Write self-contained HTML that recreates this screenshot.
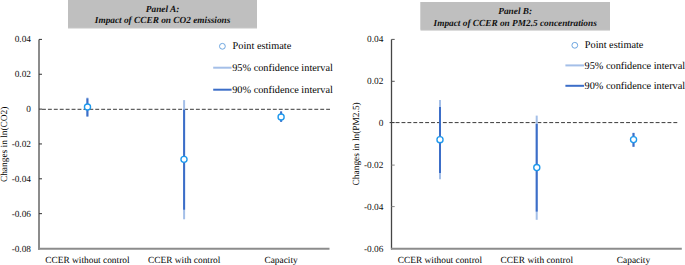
<!DOCTYPE html>
<html><head><meta charset="utf-8"><style>
html,body{margin:0;padding:0;background:#fff;width:685px;height:265px;overflow:hidden}
svg{display:block;text-rendering:geometricPrecision}
.t{font-family:"Liberation Serif",serif;font-weight:bold;font-style:italic;font-size:9.3px;fill:#111}
.tk{font-family:"Liberation Serif",serif;font-size:9.3px;fill:#111}
.xl{font-family:"Liberation Serif",serif;font-size:9.4px;fill:#000}
.lg{font-family:"Liberation Serif",serif;font-size:10.3px;fill:#000}
</style></head><body>
<svg width="685" height="265" viewBox="0 0 685 265">
<!-- ================= PANEL A ================= -->
<rect x="68" y="0" width="189" height="28.5" fill="#c6c6c6"/>
<rect x="68" y="0" width="189" height="27.5" fill="#bfbfbf"/>
<text class="t" x="162.6" y="11.8" text-anchor="middle">Panel A:</text>
<text class="t" x="162.6" y="23.4" text-anchor="middle">Impact of CCER on CO2 emissions</text>

<!-- zero line -->
<line x1="42" y1="109.3" x2="330" y2="109.3" stroke="#3a3a3a" stroke-width="1" stroke-dasharray="3.9 2.02"/>
<!-- axes -->
<line x1="39" y1="39.4" x2="39" y2="249.7" stroke="#8c8c8c" stroke-width="2"/>
<line x1="38" y1="248.7" x2="329.5" y2="248.7" stroke="#8c8c8c" stroke-width="2"/>
<g stroke="#333" stroke-width="1">
<line x1="39" y1="39.4" x2="42" y2="39.4"/>
<line x1="39" y1="74.25" x2="42" y2="74.25"/>
<line x1="39" y1="109.1" x2="42" y2="109.1"/>
<line x1="39" y1="143.95" x2="42" y2="143.95"/>
<line x1="39" y1="178.8" x2="42" y2="178.8"/>
<line x1="39" y1="213.65" x2="42" y2="213.65"/>
</g>
<g class="tk" text-anchor="end">
<text x="31" y="42">0.04</text>
<text x="31" y="77">0.02</text>
<text x="31" y="112">0</text>
<text x="31" y="147">-0.02</text>
<text x="31" y="182">-0.04</text>
<text x="31" y="217">-0.06</text>
<text x="31" y="252">-0.08</text>
</g>
<text class="xl" transform="translate(7,144.35) rotate(-90)" text-anchor="middle">Changes in ln(CO2)</text>
<g class="xl" text-anchor="middle">
<text x="87.4" y="262.8">CCER without control</text>
<text x="184.2" y="262.8">CCER with control</text>
<text x="281.1" y="262.8">Capacity</text>
</g>
<!-- data A -->
<g stroke-width="2">
<line x1="87.4" y1="97.6" x2="87.4" y2="117" stroke="#a4bfe8"/>
<line x1="87.4" y1="98.4" x2="87.4" y2="116.3" stroke="#3c6ec8"/>
<line x1="184.1" y1="100.1" x2="184.1" y2="219.3" stroke="#a4bfe8"/>
<line x1="184.1" y1="109.5" x2="184.1" y2="209.7" stroke="#3c6ec8"/>
<line x1="281.1" y1="111.2" x2="281.1" y2="122" stroke="#a4bfe8"/>
<line x1="281.1" y1="111.5" x2="281.1" y2="121.8" stroke="#3c6ec8"/>
</g>
<g fill="#fff" stroke="#1f98ec" stroke-width="1.35">
<circle cx="87.5" cy="107" r="3.05"/>
<circle cx="184" cy="159.35" r="3.05"/>
<circle cx="281.1" cy="117" r="3.05"/>
</g>
<!-- legend A -->
<circle cx="222.4" cy="46.3" r="2.9" fill="#fff" stroke="#6ea6e0" stroke-width="1"/>
<line x1="213.2" y1="67.7" x2="231.6" y2="67.7" stroke="#a4bfe8" stroke-width="2"/>
<line x1="213.2" y1="89.7" x2="231.6" y2="89.7" stroke="#3c6ec8" stroke-width="2"/>
<g class="lg">
<text x="232.6" y="49.4">Point estimate</text>
<text x="232.2" y="70.9">95% confidence interval</text>
<text x="232.2" y="92.6">90% confidence interval</text>
</g>

<!-- ================= PANEL B ================= -->
<rect x="420.5" y="2" width="189.5" height="28.6" fill="#c6c6c6"/>
<rect x="420.5" y="2" width="189.5" height="27.6" fill="#bfbfbf"/>
<text class="t" x="515.2" y="13.9" text-anchor="middle">Panel B:</text>
<text class="t" x="515.2" y="25.5" text-anchor="middle">Impact of CCER on PM2.5 concentrations</text>

<line x1="389.6" y1="122.6" x2="394.6" y2="122.6" stroke="#2a2a2a" stroke-width="1"/>
<line x1="395.6" y1="122.6" x2="677.5" y2="122.6" stroke="#3a3a3a" stroke-width="1" stroke-dasharray="3.9 2.01"/>
<line x1="391.5" y1="39.4" x2="391.5" y2="249.5" stroke="#454545" stroke-width="1.3"/>
<line x1="391" y1="248.8" x2="681.8" y2="248.8" stroke="#8c8c8c" stroke-width="2"/>
<g stroke="#555" stroke-width="1">
<line x1="391.5" y1="39.4" x2="394.7" y2="39.4"/>
<line x1="391.5" y1="81.3" x2="394.7" y2="81.3"/>
</g>
<g stroke="#888" stroke-width="1">
<line x1="391.5" y1="165.1" x2="394.7" y2="165.1"/>
<line x1="391.5" y1="206.6" x2="394.7" y2="206.6"/>
</g>
<g class="tk" text-anchor="end">
<text x="383.4" y="42">0.04</text>
<text x="383.4" y="84">0.02</text>
<text x="383.4" y="126">0</text>
<text x="383.4" y="168">-0.02</text>
<text x="383.4" y="210">-0.04</text>
<text x="383.4" y="252">-0.06</text>
</g>
<text class="xl" transform="translate(359.2,143.85) rotate(-90)" text-anchor="middle">Changes in ln(PM2.5)</text>
<g class="xl" text-anchor="middle">
<text x="439.9" y="262.8">CCER without control</text>
<text x="536.8" y="262.8">CCER with control</text>
<text x="633.45" y="262.8">Capacity</text>
</g>
<g stroke-width="2">
<line x1="440" y1="100.1" x2="440" y2="179.3" stroke="#a4bfe8"/>
<line x1="440" y1="106.9" x2="440" y2="172.9" stroke="#3c6ec8"/>
<line x1="536.7" y1="115.6" x2="536.7" y2="219.8" stroke="#a4bfe8"/>
<line x1="536.7" y1="123.9" x2="536.7" y2="211.6" stroke="#3c6ec8"/>
<line x1="633.5" y1="132.7" x2="633.5" y2="147" stroke="#a4bfe8"/>
<line x1="633.5" y1="133" x2="633.5" y2="146.7" stroke="#3c6ec8"/>
</g>
<g fill="#fff" stroke="#1f98ec" stroke-width="1.35">
<circle cx="440" cy="139.7" r="3.05"/>
<circle cx="536.8" cy="167.55" r="3.05"/>
<circle cx="633.55" cy="139.6" r="3.05"/>
</g>
<circle cx="574.8" cy="45.3" r="2.9" fill="#fff" stroke="#6ea6e0" stroke-width="1"/>
<line x1="565.4" y1="65.4" x2="584.1" y2="65.4" stroke="#a4bfe8" stroke-width="2"/>
<line x1="565.4" y1="85.8" x2="584.1" y2="85.8" stroke="#3c6ec8" stroke-width="2"/>
<g class="lg">
<text x="584.8" y="48.3">Point estimate</text>
<text x="584.5" y="68.7">95% confidence interval</text>
<text x="584.5" y="89.1">90% confidence interval</text>
</g>
</svg>
</body></html>
